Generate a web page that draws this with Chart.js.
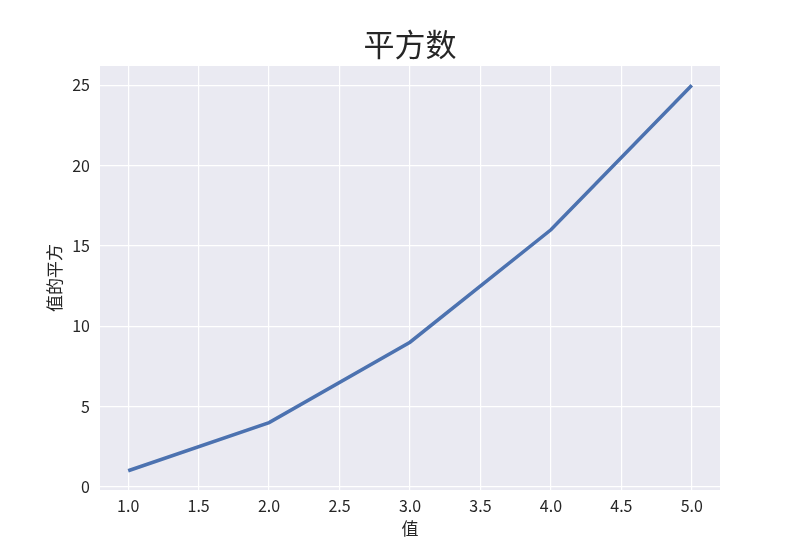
<!DOCTYPE html>
<html>
<head>
<meta charset="utf-8">
<script src="https://cdn.jsdelivr.net/npm/chart.js@4/dist/chart.umd.min.js"></script>
<style>
  html, body { margin: 0; padding: 0; background: #fff; }
  #wrap { width: 800px; height: 550px; }
</style>
</head>
<body>
<div id="wrap"><canvas id="chart" width="800" height="550"></canvas></div>
<script>
// data: values and their squares
const xValues = [1, 2, 3, 4, 5];
const yValues = [1, 4, 9, 16, 25];
const xTicks = [1.0, 1.5, 2.0, 2.5, 3.0, 3.5, 4.0, 4.5, 5.0];
const yTicks = [0, 5, 10, 15, 20, 25];
const titleText = '平方数';
const xLabel = '值';
const yLabel = '值的平方';

const FONT = '"Noto Sans CJK SC", "DejaVu Sans", sans-serif';
const INK = '#262626';

// seaborn style grey plot background
const plotBg = {
	id: 'plotBg',
	beforeDraw(chart){
		const a = chart.chartArea;
		const ctx = chart.ctx;
		ctx.save();
		ctx.fillStyle = '#eaeaf2';
		ctx.fillRect(a.left, a.top, a.right - a.left, a.bottom - a.top);
		ctx.restore();
	}
};

// title centred over the plot area, like matplotlib does
const plotTitle = {
	id: 'plotTitle',
	afterDraw(chart){
		const a = chart.chartArea;
		const ctx = chart.ctx;
		ctx.save();
		ctx.fillStyle = INK;
		ctx.font = '31px ' + FONT;
		ctx.textAlign = 'center';
		ctx.textBaseline = 'middle';
		ctx.fillText(titleText, (a.left + a.right) / 2, 44);
		ctx.restore();
	}
};

new Chart(document.getElementById('chart').getContext('2d'), {
	type: 'line',
	data: {
		datasets: [{
			data: xValues.map((x, i) => ({ x: x, y: yValues[i] })),
			borderColor: '#4c72b0',
			borderWidth: 3.5,
			pointRadius: 0,
			fill: false,
			tension: 0
		}]
	},
	options: {
		responsive: false,
		animation: false,
		devicePixelRatio: 1,
		layout: { padding: { left: 0, right: 80, top: 66, bottom: 0 } },
		plugins: {
			legend: { display: false },
			tooltip: { enabled: false },
			title: { display: false }
		},
		scales: {
			x: {
				type: 'linear',
				min: 0.8,
				max: 5.2,
				afterBuildTicks: axis => { axis.ticks = xTicks.map(v => ({ value: v })); },
				afterFit: axis => { axis.height = 60; },
				grid: { color: '#ffffff', lineWidth: 1.2, drawTicks: false },
				border: { display: false },
				ticks: {
					color: INK,
					padding: 6,
					font: { family: FONT, size: 16 },
					callback: v => v.toFixed(1)
				},
				title: {
					display: true,
					text: xLabel,
					color: INK,
					font: { family: FONT, size: 17 },
					padding: { top: 0, bottom: 11 }
				}
			},
			y: {
				type: 'linear',
				min: -0.2,
				max: 26.2,
				afterBuildTicks: axis => { axis.ticks = yTicks.map(v => ({ value: v })); },
				afterFit: axis => { axis.width = 100; },
				grid: { color: '#ffffff', lineWidth: 1.2, drawTicks: false },
				border: { display: false },
				ticks: {
					color: INK,
					padding: 10,
					font: { family: FONT, size: 16 }
				},
				title: {
					display: true,
					text: yLabel,
					color: INK,
					font: { family: FONT, size: 17 },
					padding: { top: 44, bottom: 0 }
				}
			}
		}
	},
	plugins: [plotBg, plotTitle]
});
</script>
</body>
</html>
